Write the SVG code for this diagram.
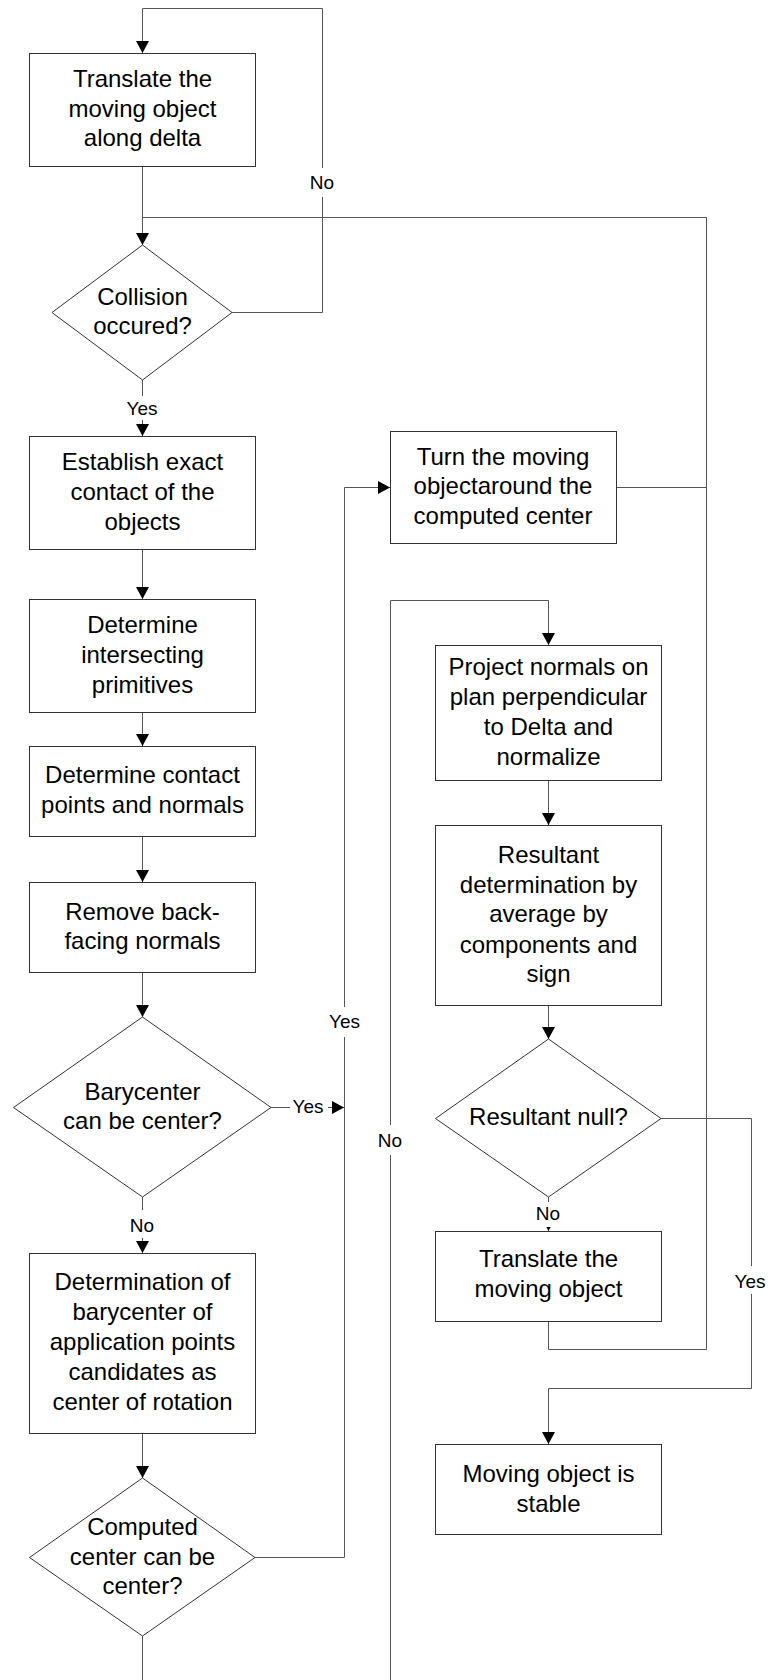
<svg xmlns="http://www.w3.org/2000/svg" width="770" height="1680" viewBox="0 0 770 1680">
<style>
.box{fill:#fff;stroke:#333;stroke-width:1}
.con{fill:none;stroke:#555;stroke-width:1}
.t{font-family:"Liberation Sans",Arial,sans-serif;font-size:24px;fill:#000;text-anchor:middle}
.l{font-family:"Liberation Sans",Arial,sans-serif;font-size:19px;fill:#000;text-anchor:middle}
.bg{fill:#fff;stroke:none}
</style>
<defs>
<marker id="ar" viewBox="0 0 12 13" refX="12" refY="6.5" markerWidth="12" markerHeight="13" markerUnits="userSpaceOnUse" orient="auto">
<path d="M0,0 L12,6.5 L0,13 Z" fill="#000"/>
</marker>
</defs>
<rect width="770" height="1680" fill="#fff"/>
<g id="connectors">
<path class="con" d="M142.5,166 V245" marker-end="url(#ar)"/>
<path class="con" d="M616,487.5 H706.5 V217.5 H142.5" />
<path class="con" d="M548.5,1321 V1349.5 H706.5 V487" />
<path class="con" d="M232,312.5 H322.5 V8.5 H142.5 V53" marker-end="url(#ar)"/>
<path class="con" d="M142.5,380 V436" marker-end="url(#ar)"/>
<path class="con" d="M142.5,549 V599" marker-end="url(#ar)"/>
<path class="con" d="M142.5,712 V746" marker-end="url(#ar)"/>
<path class="con" d="M142.5,837 V882" marker-end="url(#ar)"/>
<path class="con" d="M142.5,972 V1017" marker-end="url(#ar)"/>
<path class="con" d="M271,1107.5 H344" marker-end="url(#ar)"/>
<path class="con" d="M142.5,1197 V1253" marker-end="url(#ar)"/>
<path class="con" d="M142.5,1433 V1478" marker-end="url(#ar)"/>
<path class="con" d="M255,1557.5 H344.5 V487.5 H390" marker-end="url(#ar)"/>
<path class="con" d="M142.5,1636 V1700 H390.5 V600.5 H548.5 V645" marker-end="url(#ar)"/>
<path class="con" d="M548.5,780 V825" marker-end="url(#ar)"/>
<path class="con" d="M548.5,1005 V1039" marker-end="url(#ar)"/>
<path class="con" d="M548.5,1197 V1231" marker-end="url(#ar)"/>
<path class="con" d="M661,1118.5 H751.5 V1388.5 H548.5 V1444" marker-end="url(#ar)"/>
</g>
<g id="labels">
<rect class="bg" x="308" y="168" width="29" height="29"/>
<text class="l" x="322" y="189">No</text>
<rect class="bg" x="124" y="396" width="36" height="24"/>
<text class="l" x="142" y="415">Yes</text>
<rect class="bg" x="290" y="1096" width="38" height="22"/>
<text class="l" x="308" y="1113">Yes</text>
<rect class="bg" x="326" y="1007" width="37" height="30"/>
<text class="l" x="344.5" y="1028">Yes</text>
<rect class="bg" x="128" y="1210" width="29" height="28"/>
<text class="l" x="142" y="1232">No</text>
<rect class="bg" x="376" y="1125" width="29" height="30"/>
<text class="l" x="390" y="1147">No</text>
<rect class="bg" x="534" y="1202" width="29" height="25"/>
<text class="l" x="548" y="1220">No</text>
<rect class="bg" x="733" y="1266" width="36" height="28"/>
<text class="l" x="750" y="1288">Yes</text>
</g>
<g id="n1"><rect class="box" x="29.5" y="53.5" width="226" height="113"/>
<text class="t"><tspan x="142.5" y="87">Translate the</tspan><tspan x="142.5" y="116.5">moving object</tspan><tspan x="142.5" y="146">along delta</tspan></text></g>
<g id="d1"><path class="box" d="M142.5,245 L232,312.5 L142.5,380 L52,312.5 Z"/>
<text class="t"><tspan x="142.5" y="305">Collision</tspan><tspan x="142.5" y="334">occured?</tspan></text></g>
<g id="n2"><rect class="box" x="29.5" y="436.5" width="226" height="113"/>
<text class="t"><tspan x="142.5" y="470">Establish exact</tspan><tspan x="142.5" y="500">contact of the</tspan><tspan x="142.5" y="530">objects</tspan></text></g>
<g id="n3"><rect class="box" x="29.5" y="599.5" width="226" height="113"/>
<text class="t"><tspan x="142.5" y="633">Determine</tspan><tspan x="142.5" y="663">intersecting</tspan><tspan x="142.5" y="693">primitives</tspan></text></g>
<g id="n4"><rect class="box" x="29.5" y="746.5" width="226" height="90"/>
<text class="t"><tspan x="142.5" y="783">Determine contact</tspan><tspan x="142.5" y="813">points and normals</tspan></text></g>
<g id="n5"><rect class="box" x="29.5" y="882.5" width="226" height="90"/>
<text class="t"><tspan x="142.5" y="920">Remove back-</tspan><tspan x="142.5" y="949">facing normals</tspan></text></g>
<g id="d2"><path class="box" d="M142.5,1017 L271,1107.5 L142.5,1197 L13.5,1107.5 Z"/>
<text class="t"><tspan x="142.5" y="1100">Barycenter</tspan><tspan x="142.5" y="1129">can be center?</tspan></text></g>
<g id="n6"><rect class="box" x="29.5" y="1253.5" width="226" height="180"/>
<text class="t"><tspan x="142.5" y="1290">Determination of</tspan><tspan x="142.5" y="1320">barycenter of</tspan><tspan x="142.5" y="1350">application points</tspan><tspan x="142.5" y="1380">candidates as</tspan><tspan x="142.5" y="1410">center of rotation</tspan></text></g>
<g id="d3"><path class="box" d="M142.5,1478 L255,1557.5 L142.5,1636 L29.5,1557.5 Z"/>
<text class="t"><tspan x="142.5" y="1535">Computed</tspan><tspan x="142.5" y="1565">center can be</tspan><tspan x="142.5" y="1594">center?</tspan></text></g>
<g id="n7"><rect class="box" x="390.5" y="431.5" width="226" height="112"/>
<text class="t"><tspan x="503" y="465">Turn the moving</tspan><tspan x="503" y="494">objectaround the</tspan><tspan x="503" y="524">computed center</tspan></text></g>
<g id="n8"><rect class="box" x="435.5" y="645.5" width="226" height="135"/>
<text class="t"><tspan x="548.5" y="675">Project normals on</tspan><tspan x="548.5" y="705">plan perpendicular</tspan><tspan x="548.5" y="735">to Delta and</tspan><tspan x="548.5" y="765">normalize</tspan></text></g>
<g id="n9"><rect class="box" x="435.5" y="825.5" width="226" height="180"/>
<text class="t"><tspan x="548.5" y="863">Resultant</tspan><tspan x="548.5" y="893">determination by</tspan><tspan x="548.5" y="922">average by</tspan><tspan x="548.5" y="953">components and</tspan><tspan x="548.5" y="982">sign</tspan></text></g>
<g id="d4"><path class="box" d="M548.5,1039 L661,1118.5 L548.5,1197 L435.5,1118.5 Z"/>
<text class="t"><tspan x="548.5" y="1125">Resultant null?</tspan></text></g>
<g id="n10"><rect class="box" x="435.5" y="1231.5" width="226" height="90"/>
<text class="t"><tspan x="548.5" y="1267">Translate the</tspan><tspan x="548.5" y="1297">moving object</tspan></text></g>
<g id="n11"><rect class="box" x="435.5" y="1444.5" width="226" height="90"/>
<text class="t"><tspan x="548.5" y="1482">Moving object is</tspan><tspan x="548.5" y="1512">stable</tspan></text></g>
</svg>
